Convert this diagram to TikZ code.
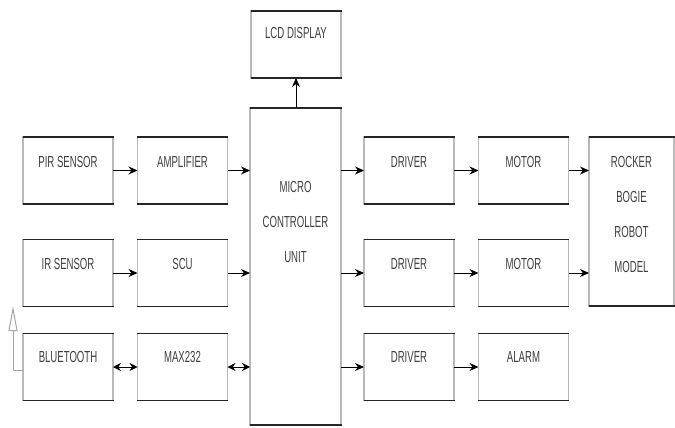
\documentclass[tikz,border=0pt]{standalone}
\usepackage{fontspec}
\setmainfont[FakeStretch=0.6]{Liberation Sans}
\usetikzlibrary{arrows.meta}
\begin{document}
\begin{tikzpicture}[x=1pt,y=1pt,
  box/.style={draw=gray!55, line width=1.5pt, minimum width=90, minimum height=67, inner sep=0, outer sep=0},
  lbl/.style={text=black!75, font={\fontsize{16}{35}\selectfont}, align=center, inner sep=0},
  arr/.style={-{Stealth[length=9pt,width=8pt]}, line width=1pt, black},
  barr/.style={{Stealth[length=8pt,width=8pt]}-{Stealth[length=8pt,width=8pt]}, line width=1pt, black},
  ant/.style={-{Triangle[open, length=25pt, width=9pt]}, line width=1pt, gray!70}]
\useasboundingbox[fill=white] (0,0) rectangle (675,-428);
% boxes
\node[box, label={[lbl, anchor=center, yshift=-22]north:LCD DISPLAY}] (lcd) at (296,-44.5) {};
\node[box, label={[lbl, anchor=center, yshift=-25]north:PIR SENSOR}] (pir) at (68,-170.5) {};
\node[box, label={[lbl, anchor=center, yshift=-25]north:AMPLIFIER}] (amp) at (182.5,-170.5) {};
\node[box, label={[lbl, anchor=center, yshift=-24]north:IR SENSOR}] (ir) at (68,-273) {};
\node[box, label={[lbl, anchor=center, yshift=-24]north:SCU}] (scu) at (182.5,-273) {};
\node[box, label={[lbl, anchor=center, yshift=-23]north:BLUETOOTH}] (bt) at (68,-367) {};
\node[box, label={[lbl, anchor=center, yshift=-23]north:MAX232}] (max) at (182.5,-367) {};
\node[box, minimum width=91, minimum height=317, label={[lbl, anchor=center, yshift=-114]north:MICRO\\CONTROLLER\\UNIT}] (mcu) at (295.5,-266.5) {};
\node[box, label={[lbl, anchor=center, yshift=-25]north:DRIVER}] (d1) at (409,-170.5) {};
\node[box, label={[lbl, anchor=center, yshift=-24]north:DRIVER}] (d2) at (409,-273) {};
\node[box, label={[lbl, anchor=center, yshift=-23]north:DRIVER}] (d3) at (409,-367) {};
\node[box, label={[lbl, anchor=center, yshift=-25]north:MOTOR}] (m1) at (523.5,-170.5) {};
\node[box, label={[lbl, anchor=center, yshift=-24]north:MOTOR}] (m2) at (523.5,-273) {};
\node[box, label={[lbl, anchor=center, yshift=-23]north:ALARM}] (al) at (523.5,-367) {};
\node[box, minimum width=85, minimum height=169, label={[lbl, anchor=center, yshift=-77]north:ROCKER\\BOGIE\\ROBOT\\MODEL}] (rb) at (631.5,-221.5) {};
% dark top and bottom edges
\foreach \n in {lcd,pir,amp,ir,scu,bt,max,mcu,d1,d2,d3,m1,m2,al,rb}{
  \draw[black!85, line width=1.1pt] ([xshift=-0.5pt]\n.north west) -- ([xshift=0.5pt]\n.north east);
  \draw[black!85, line width=1.1pt] ([xshift=-0.5pt]\n.south west) -- ([xshift=0.5pt]\n.south east);
}
% connectors
\draw[arr] (pir.east) -- (amp.west);
\draw[arr] (amp.east) -- (amp.east -| mcu.west);
\draw[arr] (ir.east) -- (scu.west);
\draw[arr] (scu.east) -- (scu.east -| mcu.west);
\draw[barr] (bt.east) -- (max.west);
\draw[barr] (max.east) -- (max.east -| mcu.west);
\draw[arr] (mcu.north -| lcd.south) -- (lcd.south);
\draw[arr] (mcu.east |- d1.west) -- (d1.west);
\draw[arr] (mcu.east |- d2.west) -- (d2.west);
\draw[arr] (mcu.east |- d3.west) -- (d3.west);
\draw[arr] (d1.east) -- (m1.west);
\draw[arr] (d2.east) -- (m2.west);
\draw[arr] (d3.east) -- (al.west);
\draw[arr] (m1.east) -- (m1.east -| rb.west);
\draw[arr] (m2.east) -- (m2.east -| rb.west);
% antenna
\coordinate (antTop) at (13,-306);
\draw[ant] ([yshift=-3pt]bt.west) -- ([yshift=-3pt]bt.west -| antTop) -- (antTop);
\end{tikzpicture}
\end{document}
